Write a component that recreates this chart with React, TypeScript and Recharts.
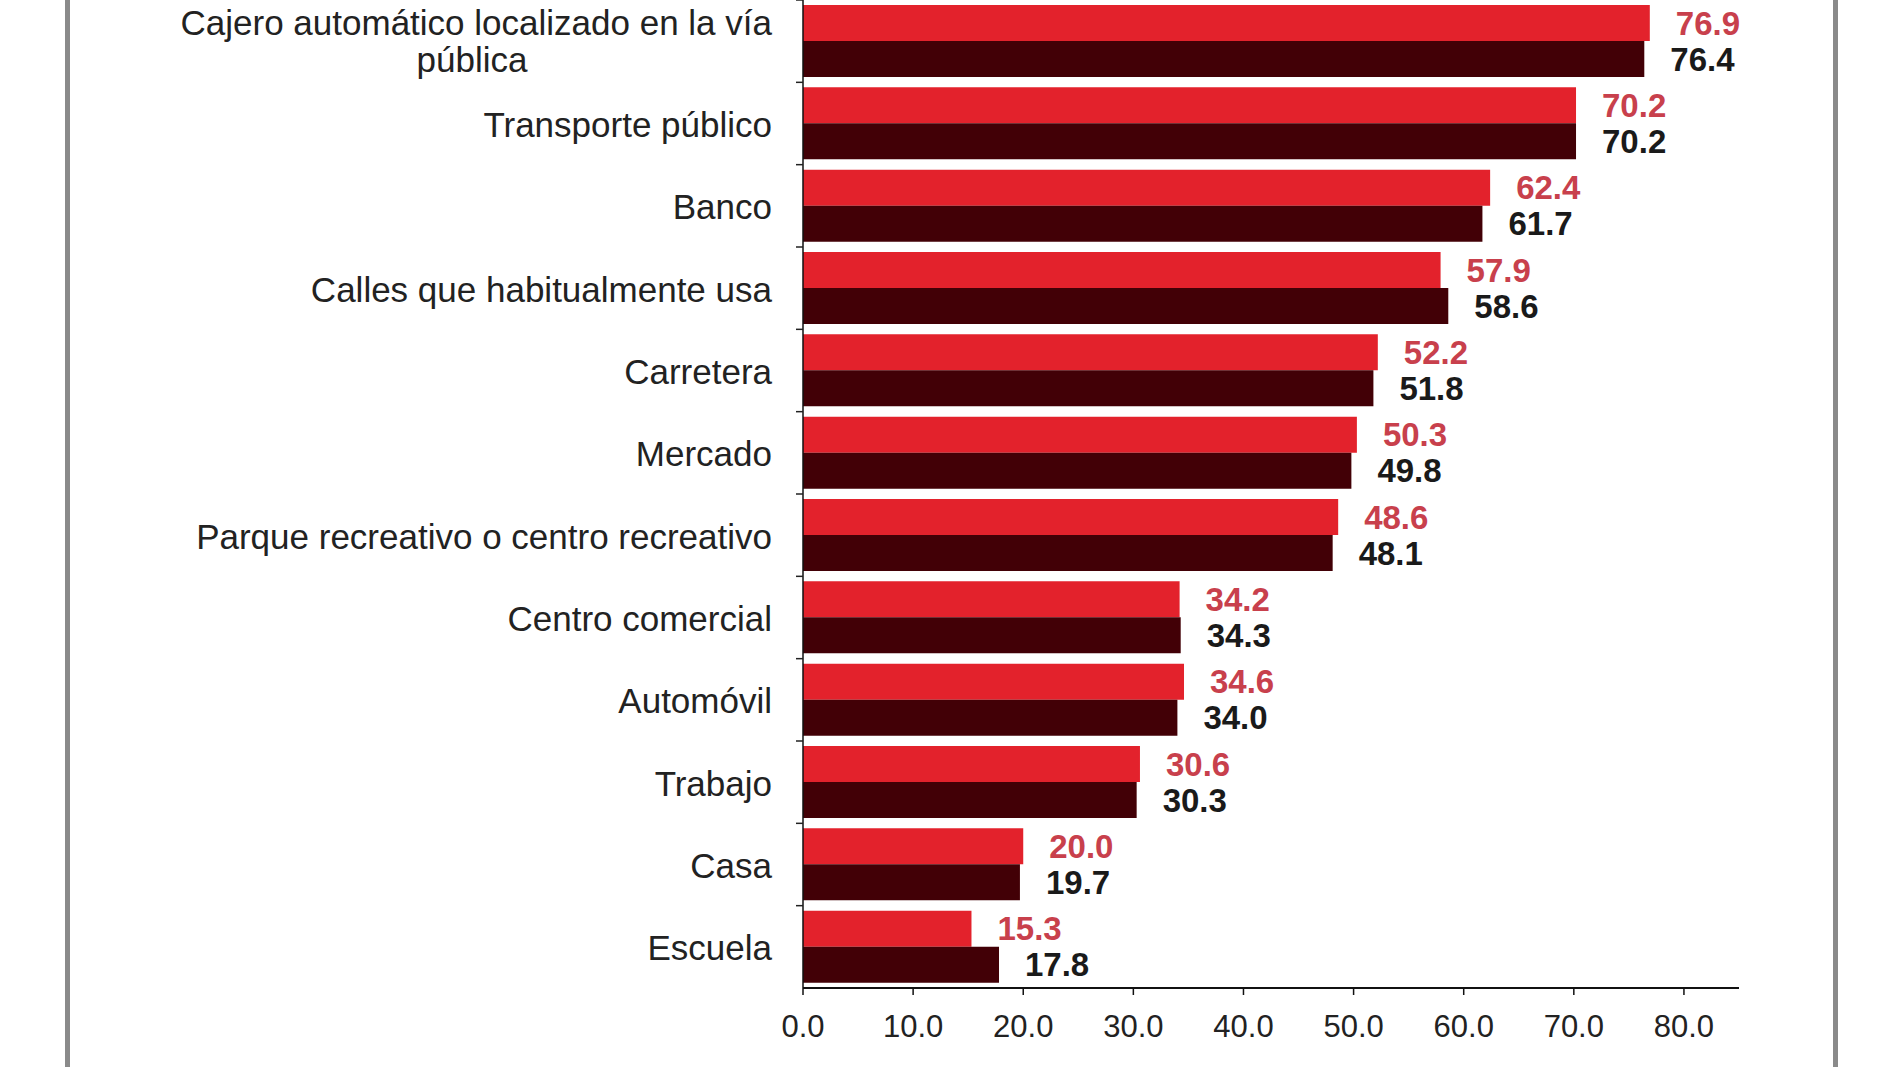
import React from "react";
import { BarChart, Bar, XAxis, YAxis, LabelList } from "recharts";

const categories = [
  "Cajero automático localizado en la vía pública",
  "Transporte público",
  "Banco",
  "Calles que habitualmente usa",
  "Carretera",
  "Mercado",
  "Parque recreativo o centro recreativo",
  "Centro comercial",
  "Automóvil",
  "Trabajo",
  "Casa",
  "Escuela",
];

const redValues = [76.9, 70.2, 62.4, 57.9, 52.2, 50.3, 48.6, 34.2, 34.6, 30.6, 20.0, 15.3];
const darkValues = [76.4, 70.2, 61.7, 58.6, 51.8, 49.8, 48.1, 34.3, 34.0, 30.3, 19.7, 17.8];
const xTicks = [0, 10, 20, 30, 40, 50, 60, 70, 80];

const data = categories.map((name, i) => ({ name, red: redValues[i], dark: darkValues[i] }));

const FONT = "'Liberation Sans', Arial, sans-serif";
const PLOT_H = 988;
const BAND = PLOT_H / categories.length;

const CategoryTick = (props: any) => {
  const { x, y, payload } = props;
  const text: string = payload.value;
  const axisX = x + 8;
  const tickLine = (
    <line x1={axisX - 7} x2={axisX} y1={y - BAND / 2} y2={y - BAND / 2} stroke="#222" strokeWidth={1.5} />
  );
  if (text.length > 40) {
    const words = text.split(" ");
    const last = words.pop();
    const first = words.join(" ");
    return (
      <g>
        {tickLine}
        <text x={axisX - 31} y={y - 19} textAnchor="end" dominantBaseline="central" fontSize={35} fill="#222" fontFamily={FONT}>
          {first}
        </text>
        <text x={axisX - 331} y={y + 18} textAnchor="middle" dominantBaseline="central" fontSize={35} fill="#222" fontFamily={FONT}>
          {last}
        </text>
      </g>
    );
  }
  return (
    <g>
      {tickLine}
      <text x={axisX - 31} y={y + 1} textAnchor="end" dominantBaseline="central" fontSize={35} fill="#222" fontFamily={FONT}>
        {text}
      </text>
    </g>
  );
};

export default function App() {
  return (
    <div style={{ position: "fixed", left: 0, top: 0, width: 1900, height: 1067, background: "#fff", overflow: "hidden" }}>
      <div style={{ position: "absolute", left: 65, top: 0, width: 5, height: 1067, background: "#8a8a8a" }} />
      <div style={{ position: "absolute", left: 1833, top: 0, width: 5, height: 1067, background: "#8a8a8a" }} />
      <BarChart
        width={1900}
        height={1067}
        data={data}
        layout="vertical"
        margin={{ top: 0, right: 161, left: 0, bottom: 0 }}
        barCategoryGap={5}
        barGap={0}
      >
        <XAxis
          type="number"
          domain={[0, 85]}
          ticks={xTicks}
          tickFormatter={(v: number) => v.toFixed(1)}
          height={79}
          axisLine={{ stroke: "#111", strokeWidth: 2 }}
          tickLine={{ stroke: "#111", strokeWidth: 1.5 }}
          tickSize={7}
          tickMargin={20}
          tick={{ fill: "#222", fontSize: 31, fontFamily: FONT }}
        />
        <YAxis
          type="category"
          dataKey="name"
          width={803}
          axisLine={{ stroke: "#111", strokeWidth: 1.5 }}
          tickLine={false}
          tick={<CategoryTick />}
          interval={0}
        />
        <Bar dataKey="red" fill="#e3222c" isAnimationActive={false}>
          <LabelList
            dataKey="red"
            position="right"
            offset={26}
            formatter={(v: number) => v.toFixed(1)}
            style={{ fill: "#c8404c", fontWeight: 700, fontSize: 33, fontFamily: FONT }}
          />
        </Bar>
        <Bar dataKey="dark" fill="#420006" isAnimationActive={false}>
          <LabelList
            dataKey="dark"
            position="right"
            offset={26}
            formatter={(v: number) => v.toFixed(1)}
            style={{ fill: "#1a1a1a", fontWeight: 700, fontSize: 33, fontFamily: FONT }}
          />
        </Bar>
      </BarChart>
    </div>
  );
}
